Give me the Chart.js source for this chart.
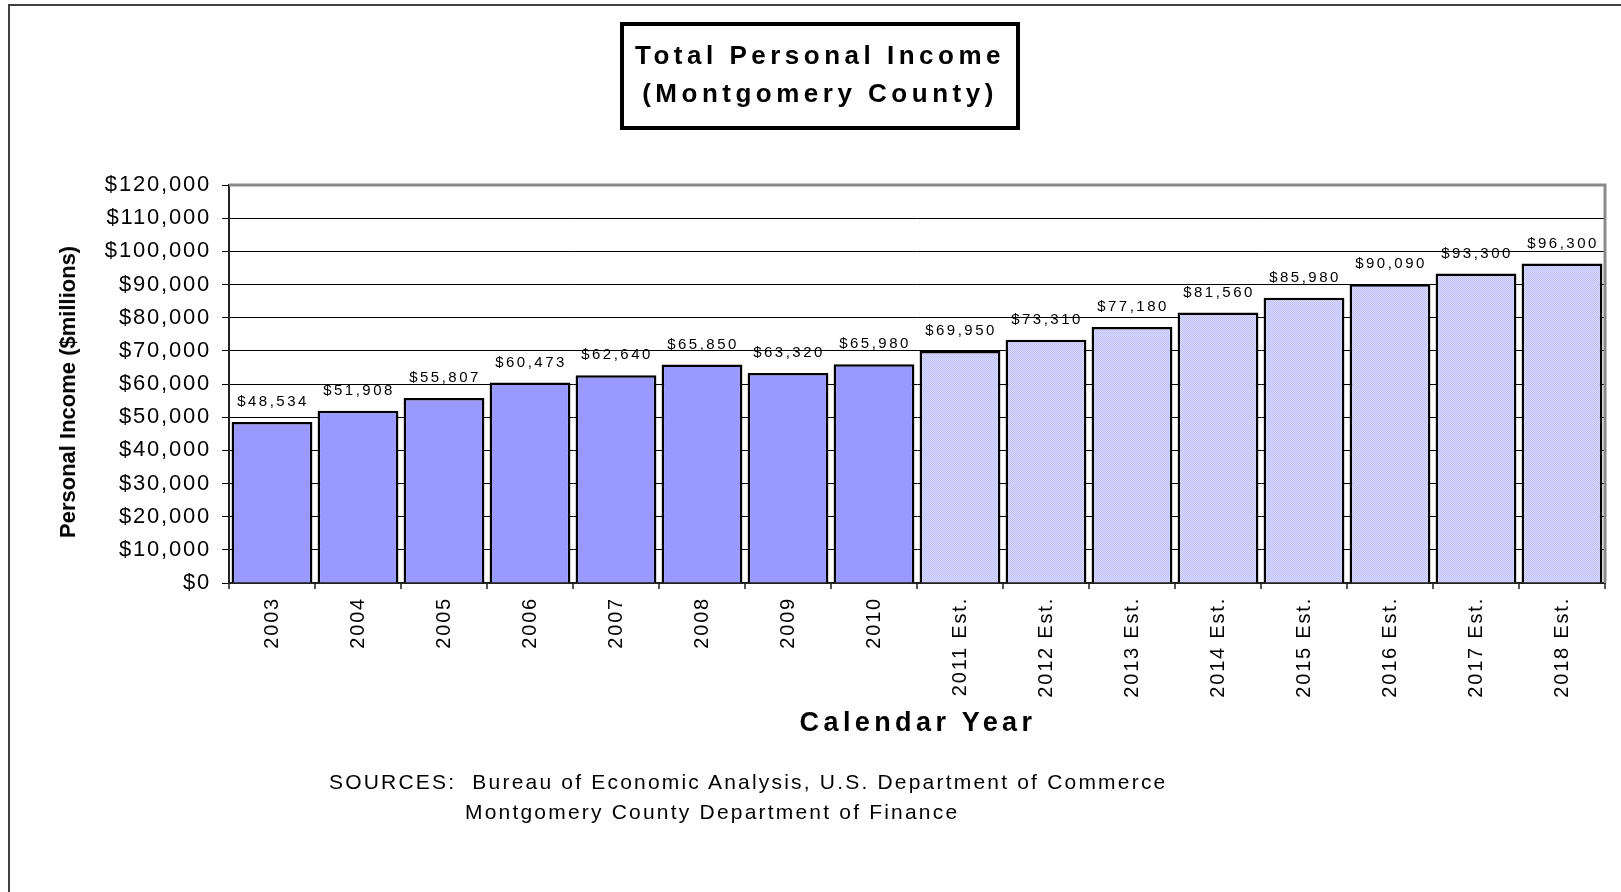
<!DOCTYPE html>
<html>
<head>
<meta charset="utf-8">
<script src="https://cdn.jsdelivr.net/npm/chart.js@4/dist/chart.umd.min.js"></script>
<style>
  html, body { margin: 0; padding: 0; background: #fff; }
  body { width: 1621px; height: 892px; position: relative; overflow: hidden; font-family: Arial, "Liberation Sans", sans-serif; }
  #frame { position: absolute; left: 8px; top: 4px; right: -10px; bottom: -10px; border-top: 2px solid #404040; border-left: 2px solid #404040; }
  #chart { position: absolute; left: 0; top: 0; }
  #title { position: absolute; left: 620px; top: 22px; width: 392px; border: 4px solid #000; text-align: center;
           font-weight: bold; font-size: 26px; letter-spacing: 4.5px; line-height: 38px; padding-top: 10px; height: 90px; }
  #ytitle { position: absolute; left: 68px; top: 392px; transform: translate(-50%, -50%) rotate(-90deg); white-space: nowrap;
            font-weight: bold; font-size: 22px; }
  #xtitle { position: absolute; left: 918px; top: 722px; transform: translate(-50%, -50%); white-space: nowrap;
            font-weight: bold; font-size: 27px; letter-spacing: 4.4px; }
  .src { position: absolute; white-space: nowrap; font-family: "Liberation Sans Narrow", "Arial Narrow", Arial, sans-serif;
         font-size: 21px; letter-spacing: 2.2px; color: #000; }
</style>
</head>
<body>
<div id="frame"></div>
<canvas id="chart" width="1621" height="892"></canvas>
<div id="title">Total Personal Income<br>(Montgomery County)</div>
<div id="ytitle">Personal Income ($millions)</div>
<div id="xtitle">Calendar Year</div>
<div class="src" style="left:329px; top:770px;">SOURCES:&nbsp; Bureau of Economic Analysis, U.S. Department of Commerce</div>
<div class="src" style="left:465px; top:800px;">Montgomery County Department of Finance</div>
<script>
const years = ['2003', '2004', '2005', '2006', '2007', '2008', '2009', '2010',
  '2011 Est.', '2012 Est.', '2013 Est.', '2014 Est.', '2015 Est.', '2016 Est.', '2017 Est.', '2018 Est.'];
const income = [48534, 51908, 55807, 60473, 62640, 65850, 63320, 65980,
  69950, 73310, 77180, 81560, 85980, 90090, 93300, 96300];
const isEstimate = [false, false, false, false, false, false, false, false,
  true, true, true, true, true, true, true, true];

const money = v => '$' + Number(v).toLocaleString('en-US');

// light dotted fill for the estimated years
const patCanvas = document.createElement('canvas');
patCanvas.width = 2; patCanvas.height = 2;
const pc = patCanvas.getContext('2d');
pc.fillStyle = '#d8d8ff'; pc.fillRect(0, 0, 2, 2);
pc.fillStyle = '#c2c2f6'; pc.fillRect(0, 0, 1, 1); pc.fillRect(1, 1, 1, 1);
const estPattern = pc.createPattern(patCanvas, 'repeat');

const spacing = {
  id: 'spacing',
  beforeDraw(chart) { chart.ctx.letterSpacing = '1.8px'; }
};

const plotBorder = {
  id: 'plotBorder',
  beforeDatasetsDraw(chart) {
    const a = chart.chartArea, ctx = chart.ctx;
    ctx.save();
    ctx.strokeStyle = '#8a8a8a';
    ctx.lineWidth = 3;
    ctx.beginPath();
    ctx.moveTo(a.left, a.top);
    ctx.lineTo(a.right, a.top);
    ctx.lineTo(a.right, a.bottom);
    ctx.stroke();
    ctx.restore();
  }
};

const valueLabels = {
  id: 'valueLabels',
  afterDatasetsDraw(chart) {
    const ctx = chart.ctx;
    const meta = chart.getDatasetMeta(0);
    ctx.save();
    ctx.font = '15px Arial, "Liberation Sans", sans-serif';
    ctx.letterSpacing = '2.5px';
    ctx.fillStyle = '#000';
    ctx.textAlign = 'center';
    ctx.textBaseline = 'middle';
    meta.data.forEach((bar, i) => {
      ctx.fillText(money(income[i]), bar.x + 1, bar.y - 20);
    });
    ctx.restore();
  }
};

new Chart(document.getElementById('chart'), {
  type: 'bar',
  data: {
    labels: years,
    datasets: [{
      data: income,
      backgroundColor: isEstimate.map(e => e ? estPattern : '#9999ff'),
      borderColor: '#000',
      borderWidth: 2.5,
      barPercentage: 0.94,
      categoryPercentage: 1
    }]
  },
  options: {
    responsive: false,
    animation: false,
    devicePixelRatio: 1,
    layout: { padding: { top: 185, right: 16, bottom: 0, left: 0 } },
    plugins: { legend: { display: false }, tooltip: { enabled: false } },
    scales: {
      x: {
        afterFit: s => { s.height = 309; },
        grid: { offset: true, drawOnChartArea: false, tickLength: 6, color: '#555', lineWidth: 2 },
        border: { color: '#222', width: 2 },
        ticks: { color: '#000', font: { size: 20, family: 'Arial, "Liberation Sans", sans-serif' },
                 maxRotation: 90, minRotation: 90, autoSkip: false, padding: 8 }
      },
      y: {
        min: 0, max: 120000,
        afterFit: s => { s.width = 229; },
        grid: { color: '#000', lineWidth: 1, tickLength: 7, drawTicks: true },
        border: { color: '#222', width: 2 },
        ticks: { stepSize: 10000, color: '#000', padding: 11, callback: v => money(v),
                 font: { size: 22, family: 'Arial, "Liberation Sans", sans-serif' } }
      }
    }
  },
  plugins: [spacing, plotBorder, valueLabels]
});
</script>
</body>
</html>
